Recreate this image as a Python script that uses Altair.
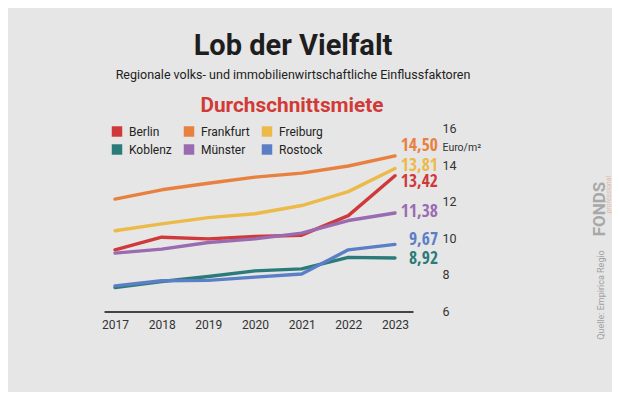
import altair as alt
import pandas as pd

years = [2017, 2018, 2019, 2020, 2021, 2022, 2023]
cities = ["Berlin", "Frankfurt", "Freiburg", "Koblenz", "Münster", "Rostock"]
berlin = [9.37, 10.06, 9.97, 10.10, 10.17, 11.24, 13.42]
frankfurt = [12.14, 12.65, 13.01, 13.34, 13.56, 13.95, 14.50]
freiburg = [10.41, 10.79, 11.13, 11.34, 11.79, 12.55, 13.81]
koblenz = [7.31, 7.64, 7.91, 8.22, 8.33, 8.96, 8.92]
muenster = [9.19, 9.41, 9.77, 9.97, 10.28, 10.97, 11.38]
rostock = [7.40, 7.68, 7.70, 7.88, 8.05, 9.37, 9.67]
end_labels = ["13,42", "14,50", "13,81", "8,92", "11,38", "9,67"]
y_ticks = [6, 8, 10, 12, 14, 16]

colors = ["#d0393a", "#e8803f", "#ecba48", "#2b7b78", "#9a6bb1", "#5b7fc6"]
label_dy = [6.5, -9.5, -3, 0.7, -1, -4.6]

FONT = "Roboto"
BOLD_NARROW = "'Open Sans Condensed', Roboto"

series = [berlin, frankfurt, freiburg, koblenz, muenster, rostock]
rows = []
for c, vals in zip(cities, series):
    for yr, v in zip(years, vals):
        rows.append({"city": c, "year": yr, "value": v})
df = pd.DataFrame(rows)
ends = pd.DataFrame({"city": cities, "year": [years[-1]] * 6,
                     "value": [s[-1] for s in series], "label": end_labels})

color_scale = alt.Scale(domain=cities, range=colors)
y_axis = alt.Axis(orient="right", values=y_ticks, ticks=False, domain=False, grid=False,
                  labelPadding=29, labelFontSize=12.5, labelColor="#333333", labelFont=FONT,
                  labelAlign="left", labelOverlap=False, labelFlush=False,
                  title="Euro/m²", titleAngle=0, titleAlign="left",
                  titleBaseline="middle", titleX=29, titleY=18.5, titleFontSize=10.5,
                  titleFontWeight="normal", titleFont=FONT, titleColor="#333333")
x_axis = alt.Axis(values=years, format="d", ticks=False, grid=False, labelPadding=8,
                  domainColor="#444444", domainWidth=2, labelFontSize=12,
                  labelColor="#333333", labelFont=FONT, labelFlush=False,
                  labelOverlap=False)
x_scale = alt.Scale(domain=[2016.764, 2023.386], nice=False, zero=False)
y_scale = alt.Scale(domain=[6, 16], nice=False, zero=False)
x_enc = alt.X("year:Q", scale=x_scale, axis=x_axis, title=None)
y_enc = alt.Y("value:Q", scale=y_scale, axis=y_axis)

lines = alt.Chart(df).mark_line(strokeWidth=3.4, strokeCap="round", strokeJoin="round").encode(
    x=x_enc, y=y_enc,
    color=alt.Color("city:N", scale=color_scale, sort=cities,
                    legend=alt.Legend(orient="none", legendX=7, legendY=-3, columns=3,
                                      direction="horizontal", title=None, symbolType="square",
                                      symbolSize=110, symbolStrokeWidth=0, labelFontSize=12,
                                      labelFont=FONT, labelColor="#222222", columnPadding=11,
                                      rowPadding=6, labelOffset=6, symbolOpacity=1)),
)

layers = [lines]
for c, dy in zip(cities, label_dy):
    layers.append(
        alt.Chart(ends).transform_filter(alt.datum.city == c)
        .mark_text(align="right", baseline="middle", dx=43, dy=dy, fontSize=17.5,
                   fontWeight="bold", font=BOLD_NARROW)
        .encode(x=alt.X("year:Q", scale=x_scale, axis=x_axis, title=None),
                y=alt.Y("value:Q", scale=y_scale, axis=y_axis), text="label:N",
                color=alt.Color("city:N", scale=color_scale, legend=None))
    )

def txt(s, x, y, font=FONT, **kw):
    return alt.Chart(pd.DataFrame({"t": [s]})).mark_text(font=font, **kw).encode(
        text="t:N", x=alt.value(x), y=alt.value(y))

layers += [
    txt("Lob der Vielfalt", 189, -83, fontSize=29, fontWeight="bold", color="#1e1e1e",
        align="center", baseline="middle"),
    txt("Regionale volks- und immobilienwirtschaftliche Einflussfaktoren", 189, -53.5,
        fontSize=12.5, color="#222222", align="center", baseline="middle"),
    txt("Durchschnittsmiete", 188, -22.5, fontSize=20.8, fontWeight="bold", color="#d23a37",
        align="center", baseline="middle"),
    txt("FONDS", 496, 80.5, fontSize=17, fontWeight="bold", color="#a8a8a8", angle=270,
        align="center", baseline="middle"),
    txt("professional", 505, 66, fontSize=7, fontStyle="italic", color="#e2b9a5", angle=270,
        align="center", baseline="middle"),
    txt("Quelle: Empirica Regio", 497, 166.5, fontSize=9, color="#a0a0a0", angle=270,
        align="center", baseline="middle"),
]

chart = alt.layer(*layers).properties(
    width=309, height=183,
    autosize=alt.AutoSizeParams(type="none"),
    padding={"left": 96, "top": 120.5, "right": 199, "bottom": 80},
    background="#e6e6e6",
).configure_view(stroke=None).configure_axis(labelOverlap=False)

chart.save("out.html", embed_options={"renderer": "svg", "actions": False})
